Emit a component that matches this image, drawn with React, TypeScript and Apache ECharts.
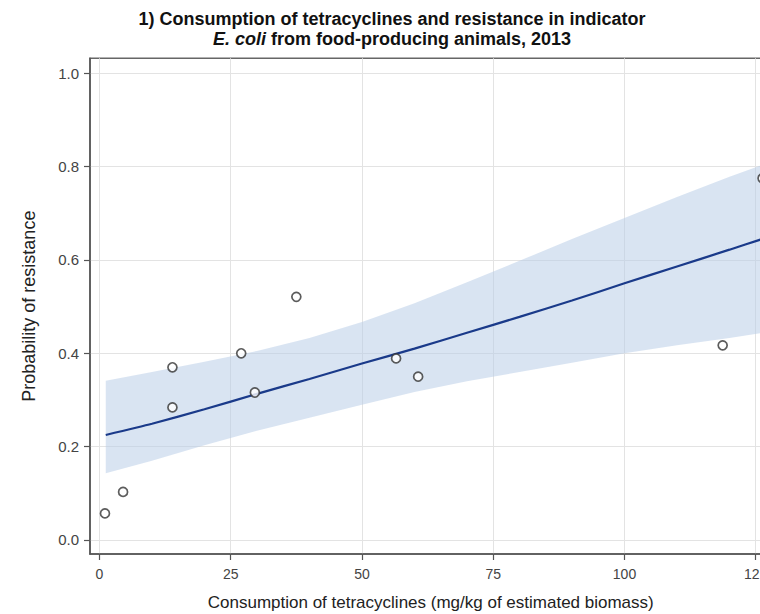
import { useEffect, useRef } from "react";
import * as echarts from "echarts";

// ---- Texts ----
const titleLine1 = "1) Consumption of tetracyclines and resistance in indicator";
const titleItalic = "E. coli";
const titleLine2Rest = " from food-producing animals, 2013";
const xAxisTitle = "Consumption of tetracyclines (mg/kg of estimated biomass)";
const yAxisTitle = "Probability of resistance";

// ---- Ticks ----
const xTicks = [0, 25, 50, 75, 100, 125];
const yTicks = [0, 0.2, 0.4, 0.6, 0.8, 1.0];

// ---- Observed points (country-level) ----
const pointX = [1.05, 4.5, 13.9, 13.9, 27.0, 29.6, 37.5, 56.5, 60.7, 118.7, 126.3];
const pointY = [0.057, 0.103, 0.370, 0.284, 0.400, 0.316, 0.521, 0.389, 0.350, 0.417, 0.775];

// ---- Fitted probability and 95% confidence band ----
const fitX = [1.2, 10, 20, 30, 40, 50, 60, 70, 80, 90, 100, 110, 120, 126.3];
const fitP = [0.225, 0.249, 0.280, 0.313, 0.345, 0.378, 0.410, 0.444, 0.478, 0.513, 0.550, 0.586, 0.622, 0.645];
const ciUpper = [0.341, 0.360, 0.382, 0.405, 0.433, 0.467, 0.507, 0.552, 0.598, 0.645, 0.690, 0.735, 0.778, 0.804];
const ciLower = [0.143, 0.170, 0.203, 0.234, 0.262, 0.290, 0.317, 0.340, 0.360, 0.380, 0.400, 0.417, 0.433, 0.444];

const FONT = "'Liberation Sans', Arial, Helvetica, sans-serif";

export default function App() {
  const ref = useRef<HTMLDivElement>(null);

  useEffect(() => {
    if (!ref.current) return;
    const chart = echarts.init(ref.current, null, { renderer: "svg" });

    const option: any = {
      animation: false,
      backgroundColor: "#ffffff",
      textStyle: { fontFamily: FONT },
      graphic: [
        {
          type: "text",
          x: 392,
          y: 19,
          style: {
            text: titleLine1,
            fontFamily: FONT,
            fontSize: 18,
            fontWeight: "bold",
            fill: "#111",
            textAlign: "center",
            textVerticalAlign: "middle",
          },
        },
        {
          type: "text",
          x: 392,
          y: 39,
          style: {
            text: `{i|${titleItalic}}{b|${titleLine2Rest}}`,
            fontFamily: FONT,
            fontSize: 18,
            fontWeight: "bold",
            fill: "#111",
            textAlign: "center",
            textVerticalAlign: "middle",
            rich: {
              i: { fontFamily: FONT, fontSize: 18, fontWeight: "bold", fontStyle: "italic", fill: "#111" },
              b: { fontFamily: FONT, fontSize: 18, fontWeight: "bold", fill: "#111" },
            },
          },
        },
      ],
      grid: {
        left: 90,
        right: -11.5,
        top: 58.3,
        bottom: 60,
        containLabel: false,
        outerBoundsMode: "none",
        show: true,
        borderColor: "#666",
        borderWidth: 1.5,
        backgroundColor: "transparent",
      },
      xAxis: {
        type: "value",
        min: -1.8,
        max: 128,
        name: xAxisTitle,
        nameLocation: "middle",
        nameGap: 40,
        nameTextStyle: { fontFamily: FONT, fontSize: 17, color: "#222" },
        axisLine: { show: true, onZero: false, lineStyle: { color: "#555", width: 1.5 } },
        axisTick: { show: true, length: 6, customValues: xTicks, lineStyle: { color: "#555", width: 1.2 } },
        axisLabel: {
          customValues: xTicks,
          margin: 13,
          fontFamily: FONT,
          fontSize: 14,
          color: "#444",
          formatter: (v: number) => String(v),
        },
        splitLine: { show: true, lineStyle: { color: "#e3e3e3", width: 1 } },
      },
      yAxis: {
        type: "value",
        min: -0.03,
        max: 1.032,
        name: yAxisTitle,
        nameLocation: "middle",
        nameGap: 52,
        nameTextStyle: { fontFamily: FONT, fontSize: 18, color: "#222" },
        axisLine: { show: true, onZero: false, lineStyle: { color: "#555", width: 1.5 } },
        axisTick: { show: true, length: 6, customValues: yTicks, lineStyle: { color: "#555", width: 1.2 } },
        axisLabel: {
          customValues: yTicks,
          margin: 11,
          fontFamily: FONT,
          fontSize: 15,
          color: "#444",
          formatter: (v: number) => v.toFixed(1),
        },
        splitLine: { show: true, lineStyle: { color: "#e3e3e3", width: 1 } },
      },
      series: [
        {
          type: "custom",
          name: "95% CI",
          coordinateSystem: "cartesian2d",
          clip: true,
          z: 1,
          data: [[fitX[0], ciLower[0]]],
          renderItem: (_params: any, api: any) => {
            const pts: number[][] = [];
            for (let i = 0; i < fitX.length; i++) pts.push(api.coord([fitX[i], ciUpper[i]]));
            for (let i = fitX.length - 1; i >= 0; i--) pts.push(api.coord([fitX[i], ciLower[i]]));
            return {
              type: "polygon",
              shape: { points: pts, smooth: 0 },
              style: { fill: "rgba(183,204,230,0.52)", stroke: "none" },
            };
          },
        },
        {
          type: "line",
          name: "Fitted",
          z: 3,
          data: fitX.map((x, i) => [x, fitP[i]]),
          showSymbol: false,
          smooth: 0.2,
          lineStyle: { color: "#1a3a8a", width: 2.2 },
        },
        {
          type: "scatter",
          name: "Observed",
          z: 4,
          data: pointX.map((x, i) => [x, pointY[i]]),
          symbol: "circle",
          symbolSize: 9,
          itemStyle: { color: "#ffffff", borderColor: "#333", borderWidth: 1.7 },
        },
      ],
    };

    chart.setOption(option);
    return () => chart.dispose();
  }, []);

  return (
    <div
      ref={ref}
      style={{ position: "fixed", left: 0, top: 0, width: 760, height: 614, background: "#fff" }}
    />
  );
}
